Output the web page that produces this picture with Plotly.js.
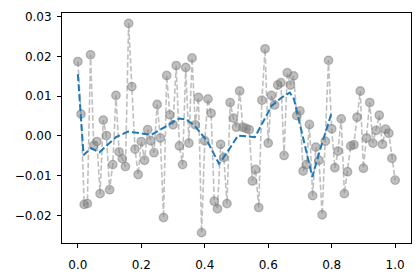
<!DOCTYPE html>
<html>
<head>
<meta charset="utf-8">
<script src="https://cdn.plot.ly/plotly-3.0.1.min.js"></script>
<style>html,body{margin:0;padding:0;background:#fff;}#chart{width:420px;height:278px;}</style>
</head>
<body>
<div id="chart"></div>
<script>
// Noisy samples (x = 0.00 .. 1.00 step 0.01)
const sampleX = Array.from({length: 101}, (_, i) => i / 100);
const sampleY = [
  0.0187, 0.0055, -0.0172, -0.0170, 0.0204, -0.0024, -0.0014, -0.0145, 0.0040, 0.0001,
  -0.0135, -0.0072, 0.0102, -0.0040, -0.0057, -0.0077, 0.0283, 0.0124, -0.0033, -0.0097,
  -0.0014, -0.0061, 0.0016, -0.0012, -0.0042, 0.0079, -0.0005, -0.0205, 0.0152, 0.0053,
  0.0028, 0.0177, -0.0025, -0.0072, 0.0172, -0.0018, 0.0196, 0.0028, 0.0097, -0.0243,
  -0.0012, 0.0093, 0.0057, -0.0164, -0.0183, -0.0021, -0.0054, -0.0170, 0.0084, 0.0045,
  0.0022, 0.0113, 0.0022, 0.0019, 0.0016, -0.0113, -0.0084, -0.0180, 0.0090, 0.0219,
  -0.0018, 0.0102, 0.0078, 0.0128, 0.0134, -0.0049, 0.0159, 0.0128, 0.0151, 0.0051,
  0.0063, -0.0088, -0.0072, 0.0029, -0.0150, -0.0028, -0.0061, -0.0198, -0.0013, 0.0190,
  0.0018, -0.0080, -0.0038, 0.0043, -0.0145, -0.0090, -0.0025, -0.0022, 0.0047, 0.0113,
  -0.0081, -0.0005, 0.0084, -0.0018, 0.0014, 0.0052, -0.0021, 0.0017, 0.0007, -0.0056,
  -0.0111
];
// Smoothed curve
const smoothX = [0, 0.018, 0.042, 0.068, 0.12, 0.158, 0.232, 0.29, 0.32, 0.342, 0.368, 0.41,
  0.445, 0.474, 0.505, 0.558, 0.611, 0.643, 0.668, 0.681, 0.739, 0.764, 0.8];
const smoothY = [0.0155, -0.0048, -0.0031, -0.0041, -0.0003, 0.0011, 0.0003, 0.0030, 0.0044,
  0.0041, 0.0026, -0.0016, -0.0070, -0.0037, 0.0001, -0.0003, 0.0076, 0.0097, 0.0109, 0.0093,
  -0.0103, -0.0033, 0.0059];
const xTicks = [0, 0.2, 0.4, 0.6, 0.8, 1.0];
const yTicks = [-0.02, -0.01, 0, 0.01, 0.02, 0.03];

const traces = [
  {
    x: sampleX, y: sampleY, type: 'scatter', mode: 'lines+markers',
    line: {color: 'rgba(128,128,128,0.5)', width: 1.6, dash: '5.5px,2.4px'},
    marker: {size: 8.5, color: 'rgba(128,128,128,0.5)', line: {color: 'rgba(128,128,128,0.5)', width: 1.3}},
    hoverinfo: 'skip'
  },
  {
    x: smoothX, y: smoothY, type: 'scatter', mode: 'lines',
    line: {color: '#1f77b4', width: 2, dash: '7px,3px'},
    hoverinfo: 'skip'
  }
];

const axisCommon = {
  showline: true, mirror: true, linecolor: '#000', linewidth: 1,
  ticks: 'outside', ticklen: 4, tickwidth: 1, tickcolor: '#000',
  showgrid: false, zeroline: false,
  tickfont: {family: 'DejaVu Sans', size: 12, color: '#000'}
};

const layout = {
  width: 420, height: 278,
  margin: {l: 62, r: 9, t: 13, b: 35},
  paper_bgcolor: '#fff', plot_bgcolor: '#fff',
  showlegend: false,
  xaxis: Object.assign({}, axisCommon, {range: [-0.05, 1.05], tickvals: xTicks, tickformat: '.1f', ticklabelstandoff: 7}),
  yaxis: Object.assign({}, axisCommon, {range: [-0.0269, 0.0309], tickvals: yTicks, tickformat: '.2f', ticklabelstandoff: 3})
};

Plotly.newPlot('chart', traces, layout, {staticPlot: true, displayModeBar: false});
</script>
</body>
</html>
